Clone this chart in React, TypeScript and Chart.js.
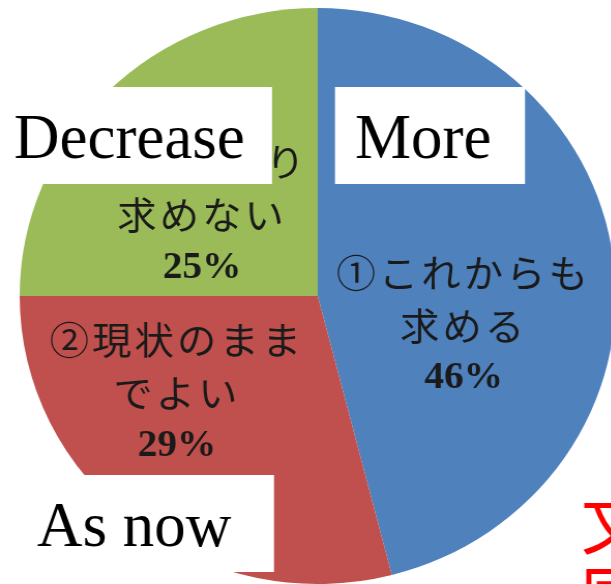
import React, { useEffect, useRef } from "react";
import { Chart, registerables } from "chart.js";

Chart.register(...registerables);

// ---- data ----
const categories = ["①これからも求める", "②現状のままでよい", "③以前より求めない"];
const values = [46, 29, 25];
const labelLines = [
  ["①これからも", "求める"],
  ["②現状のまま", "でよい"],
  ["③以前より", "求めない"],
];
const percentLabels = ["46%", "29%", "25%"];
const colors = ["#4F81BD", "#C0504D", "#9BBB59"];
const overlayTexts = ["Decrease", "More", "As now"];
const sideChars = ["文", "字"];

// ---- layout (not data) ----
const STRETCH = 1.035;
const CW = 614;
const CH = 584;
// [fraction along slice angle, fraction of radius] for the middle label line
const labelPlacement = [
  [0.614, 0.5],
  [0.66, 0.58],
  [0.4, 0.48],
];
const LINE_GAP = 53;
// overlay boxes in screen px: [x, y, w, h, textX, baselineY]
const overlayBoxes = [
  [0, 87, 272, 97, 14, 158],
  [335, 87, 190, 97, 355, 158],
  [0, 475, 274, 97, 37, 546],
];

const labelPlugin = {
  id: "sliceLabels",
  afterDraw(chart: any) {
    const ctx = chart.ctx as CanvasRenderingContext2D;
    const meta = chart.getDatasetMeta(0);
    ctx.save();
    ctx.textAlign = "center";
    ctx.textBaseline = "middle";
    meta.data.forEach((arc: any, i: number) => {
      const [fa, fr] = labelPlacement[i];
      const a = arc.startAngle + fa * (arc.endAngle - arc.startAngle);
      const r = arc.outerRadius * fr;
      const cx = arc.x + r * Math.cos(a);
      const cy = arc.y + r * Math.sin(a);
      ctx.fillStyle = "#1a1a1a";
      ctx.font = "38px 'Noto Sans CJK JP'";
      (ctx as any).letterSpacing = "3px";
      ctx.fillText(labelLines[i][0], cx, cy - LINE_GAP);
      ctx.fillText(labelLines[i][1], cx, cy);
      (ctx as any).letterSpacing = "0px";
      ctx.font = "bold 38px 'Liberation Serif'";
      ctx.fillText(percentLabels[i], cx, cy + LINE_GAP);
    });
    ctx.restore();

    // overlays in screen coordinates (undo stretch)
    ctx.save();
    ctx.scale(1 / STRETCH, 1);
    overlayBoxes.forEach((b, i) => {
      const [x, y, w, h, tx, ty] = b;
      ctx.fillStyle = "#ffffff";
      ctx.fillRect(x, y, w, h);
      ctx.fillStyle = "#000000";
      ctx.font = "63px 'Liberation Serif'";
      ctx.textAlign = "left";
      ctx.textBaseline = "alphabetic";
      ctx.fillText(overlayTexts[i], tx, ty);
    });
    ctx.fillStyle = "#ff0000";
    ctx.font = "68px 'Noto Sans CJK JP'";
    ctx.textAlign = "left";
    ctx.textBaseline = "middle";
    sideChars.forEach((c, i) => {
      ctx.fillText(c, 581, 523 + i * 70);
    });
    ctx.restore();
  },
};

export default function App() {
  const ref = useRef<HTMLCanvasElement | null>(null);

  useEffect(() => {
    if (!ref.current) return;
    const chart = new Chart(ref.current, {
      type: "pie",
      data: {
        labels: categories,
        datasets: [
          {
            data: values,
            backgroundColor: colors,
            borderWidth: 0,
            hoverOffset: 0,
          },
        ],
      },
      options: {
        responsive: false,
        animation: false,
        events: [],
        layout: { padding: { left: 19, right: 19, top: 8, bottom: 0 } },
        plugins: {
          legend: { display: false },
          tooltip: { enabled: false },
          title: { display: false },
        },
      },
      plugins: [labelPlugin],
    });
    return () => chart.destroy();
  }, []);

  return (
    <div
      style={{
        position: "fixed",
        left: 0,
        top: 0,
        width: 611,
        height: 584,
        overflow: "hidden",
        background: "#ffffff",
      }}
    >
      <canvas
        ref={ref}
        width={CW}
        height={CH}
        style={{ transform: `scaleX(${STRETCH})`, transformOrigin: "0 0", display: "block" }}
      />
    </div>
  );
}
